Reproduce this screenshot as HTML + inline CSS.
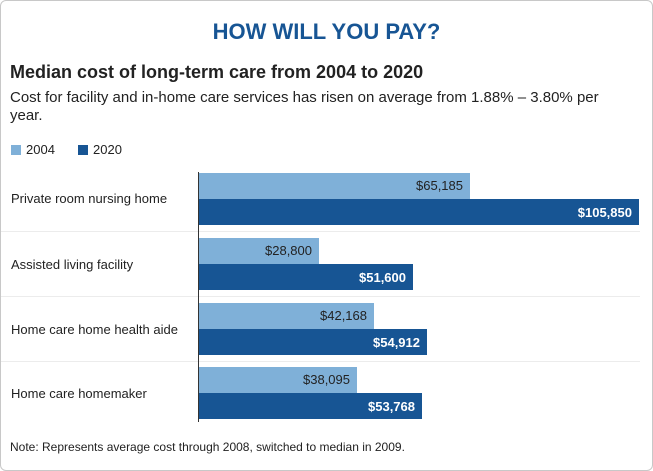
<!DOCTYPE html>
<html><head><style>
body{margin:0;width:653px;height:471px;background:#fff;font-family:"Liberation Sans",sans-serif;overflow:hidden}
.frame{position:absolute;left:0;top:0;width:651px;height:469px;border:1px solid #c8c8c8;border-radius:6px}
.t{position:absolute;white-space:nowrap;color:#222}
.bar{position:absolute;left:199px;height:26px}
.l{background:#7fb0d8}.d{background:#175594}
.v{position:absolute;font-size:13px;white-space:nowrap}
.sep{position:absolute;left:1px;width:639px;height:1px;background:#ececec}
</style></head><body>
<div class="frame"></div>
<div class="t" style="left:0;width:653px;text-align:center;top:19px;font-size:22px;font-weight:bold;color:#175594">HOW WILL YOU PAY?</div>
<div class="t" style="left:10px;top:62px;font-size:18px;font-weight:bold">Median cost of long-term care from 2004 to 2020</div>
<div class="t" style="left:10px;top:89px;font-size:15px;line-height:18px;white-space:normal;width:612px">Cost for facility and in-home care services has risen on average from 1.88% – 3.80% per year.</div>
<div style="position:absolute;left:11px;top:145px;width:10px;height:10px;background:#7fb0d8"></div>
<div class="t" style="left:26px;top:142px;font-size:13px">2004</div>
<div style="position:absolute;left:78px;top:145px;width:10px;height:10px;background:#175594"></div>
<div class="t" style="left:93px;top:142px;font-size:13px">2020</div>
<div class="sep" style="top:231px"></div><div class="sep" style="top:296px"></div><div class="sep" style="top:361px"></div>
<div style="position:absolute;left:198px;top:172px;width:1px;height:250px;background:#333"></div>
<div class="t" style="left:11px;top:191px;font-size:13px">Private room nursing home</div>
<div class="t" style="left:11px;top:257px;font-size:13px">Assisted living facility</div>
<div class="t" style="left:11px;top:322px;font-size:13px">Home care home health aide</div>
<div class="t" style="left:11px;top:386px;font-size:13px">Home care homemaker</div>

<div class="bar l" style="top:173px;width:271px"></div>
<div class="v" style="left:199px;width:264px;text-align:right;top:178px;color:#222">$65,185</div>
<div class="bar d" style="top:199px;width:440px"></div>
<div class="v" style="left:199px;width:433px;text-align:right;top:205px;color:#fff;font-weight:bold">$105,850</div>

<div class="bar l" style="top:238px;width:120px"></div>
<div class="v" style="left:199px;width:113px;text-align:right;top:243px;color:#222">$28,800</div>
<div class="bar d" style="top:264px;width:214px"></div>
<div class="v" style="left:199px;width:207px;text-align:right;top:270px;color:#fff;font-weight:bold">$51,600</div>

<div class="bar l" style="top:303px;width:175px"></div>
<div class="v" style="left:199px;width:168px;text-align:right;top:308px;color:#222">$42,168</div>
<div class="bar d" style="top:329px;width:228px"></div>
<div class="v" style="left:199px;width:221px;text-align:right;top:335px;color:#fff;font-weight:bold">$54,912</div>

<div class="bar l" style="top:367px;width:158px"></div>
<div class="v" style="left:199px;width:151px;text-align:right;top:372px;color:#222">$38,095</div>
<div class="bar d" style="top:393px;width:223px"></div>
<div class="v" style="left:199px;width:216px;text-align:right;top:399px;color:#fff;font-weight:bold">$53,768</div>

<div class="t" style="left:10px;top:440px;font-size:12px">Note: Represents average cost through 2008, switched to median in 2009.</div>
</body></html>
